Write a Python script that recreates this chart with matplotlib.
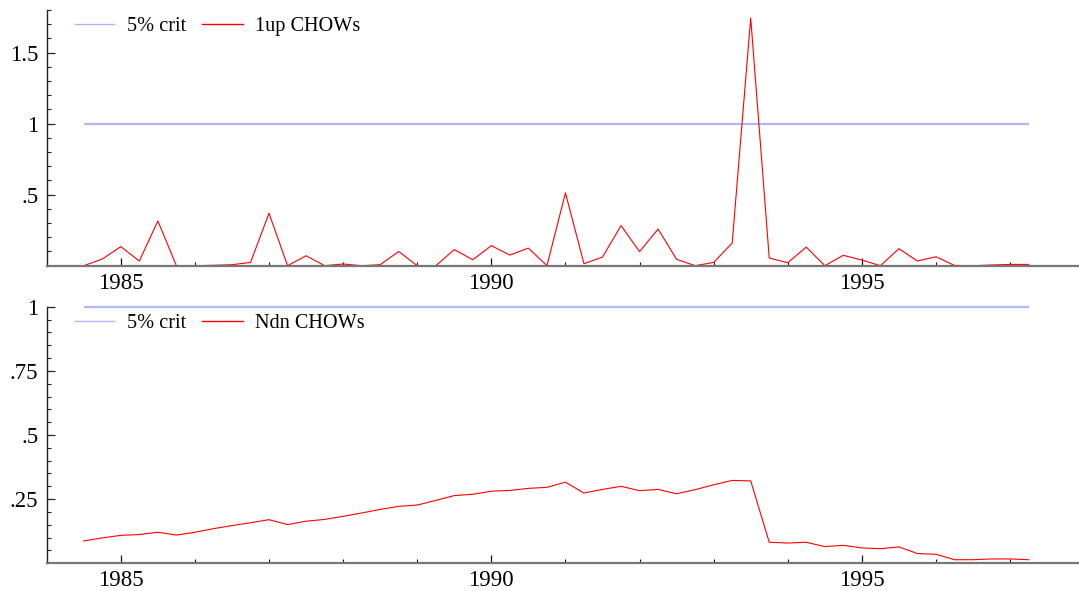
import numpy as np
import matplotlib
matplotlib.use("Agg")
import matplotlib.pyplot as plt
from matplotlib.ticker import FixedLocator

plt.rcParams['font.family'] = ['Liberation Serif', 'DejaVu Serif']

# Quarterly observations 1984Q3 .. 1997Q2
start_year, start_q = 1984, 3
n_obs = 52
t = np.array([start_year + (start_q - 1 + i) / 4.0 for i in range(n_obs)])

crit_5pct = 1.0

chow_1up = [0.00, 0.047, 0.134, 0.033, 0.315, 0.000, 0.000, 0.003, 0.007, 0.023,
            0.369, 0.000, 0.070, 0.000, 0.012, 0.000, 0.007, 0.100, 0.000, 0.000,
            0.113, 0.042, 0.141, 0.075, 0.124,
            0.000, 0.512, 0.014, 0.061, 0.282, 0.099, 0.258, 0.045, 0.000, 0.023,
            0.160, 1.743, 0.054, 0.021, 0.131, 0.000, 0.073, 0.040, 0.000, 0.120,
            0.033, 0.063, 0.002, 0.000, 0.005, 0.009, 0.009]

chow_ndn = [0.087, 0.099, 0.109, 0.112, 0.121, 0.110, 0.121, 0.135, 0.147, 0.158,
            0.170, 0.151, 0.164, 0.171, 0.183, 0.196, 0.210, 0.222, 0.227, 0.245,
            0.264, 0.269, 0.281, 0.284, 0.292,
            0.296, 0.316, 0.274, 0.288, 0.300, 0.283, 0.288, 0.271, 0.287, 0.306,
            0.323, 0.321, 0.082, 0.079, 0.082, 0.065, 0.070, 0.060, 0.057, 0.064,
            0.038, 0.035, 0.014, 0.014, 0.017, 0.017, 0.014]

top_yticks = [0.5, 1.0, 1.5]
top_ylabels = ['.5', '1', '1.5']
bot_yticks = [0.25, 0.5, 0.75, 1.0]
bot_ylabels = ['.25', '.5', '.75', '1']
x_major = [1985, 1990, 1995]
x_labels = ['1985', '1990', '1995']
x_minor = list(range(1986, 1998))

W, H = 1079, 591
fig = plt.figure(figsize=(W / 100, H / 100), dpi=100)

left_px = 46.7
ax_w = (W - left_px) / W
ax1 = fig.add_axes([left_px / W, (H - 265.7) / H, ax_w, (265.7 - 9.9) / H])
ax2 = fig.add_axes([left_px / W, (H - 563.3) / H, ax_w, (563.3 - 306.7) / H])

blue = '#b4b4ff'
red = '#ff0000'

def style(ax, ylim, yticks, ylabels, yminor_step, series, label):
    ax.plot(t, [crit_5pct] * len(t), color=blue, lw=1.6, label='5% crit',
            solid_capstyle='butt', clip_on=False)
    ax.plot(t, series, color=red, lw=0.8, label=label)
    ax.set_xlim(1984.0, 1997.93)
    ax.set_ylim(*ylim)
    ax.spines['top'].set_visible(False)
    ax.spines['right'].set_visible(False)
    ax.spines['left'].set_color('#222222')
    ax.spines['left'].set_linewidth(1.0)
    ax.spines['bottom'].set_color('#777777')
    ax.spines['bottom'].set_linewidth(1.6)
    ax.xaxis.set_major_locator(FixedLocator(x_major))
    ax.set_xticklabels(x_labels)
    ax.xaxis.set_minor_locator(FixedLocator(x_minor))
    ax.yaxis.set_major_locator(FixedLocator(yticks))
    ax.set_yticklabels(ylabels)
    minor = np.round(np.arange(0, ylim[1] + 1e-9, yminor_step), 4)
    ax.yaxis.set_minor_locator(FixedLocator([m for m in minor if m not in yticks and m > 0]))
    ax.tick_params(axis='x', which='major', direction='in', length=5.5, width=0.9,
                   color='#111111', pad=5, labelsize=16.5)
    ax.tick_params(axis='x', which='minor', direction='in', length=3, width=0.8, color='#111111')
    ax.tick_params(axis='y', which='major', direction='in', length=6, width=0.9,
                   color='#222222', pad=6, labelsize=16.5)
    ax.tick_params(axis='y', which='minor', direction='in', length=3, width=0.8, color='#222222')
    leg = ax.legend(loc='center left', bbox_to_anchor=(0.0264, 0.934), ncol=2, frameon=False,
                    borderpad=0, borderaxespad=0, handlelength=2.0, handletextpad=0.6,
                    columnspacing=0.8, fontsize=14.6)
    for line in leg.get_lines():
        line.set_linewidth(1.0)

style(ax1, (0, 1.8), top_yticks, top_ylabels, 0.1, chow_1up, '1up CHOWs')
style(ax2, (0, 1.0), bot_yticks, bot_ylabels, 0.05, chow_ndn, 'Ndn CHOWs')

fig.savefig('out.png', dpi=100)
